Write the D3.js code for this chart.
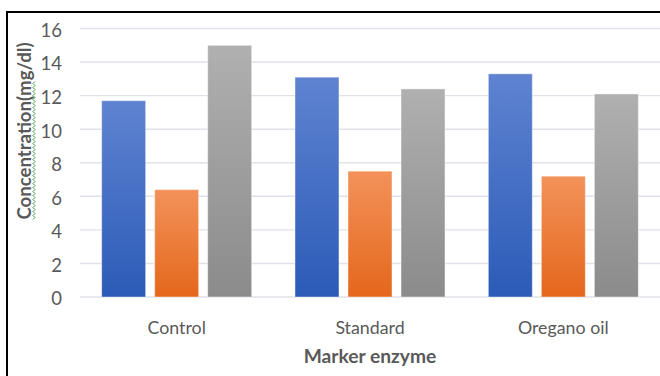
<!DOCTYPE html>
<html>
<head>
<meta charset="utf-8">
<script src="https://cdn.jsdelivr.net/npm/d3@7"></script>
<style>
  html, body { margin: 0; padding: 0; background: #fff; }
  svg { display: block; }
  text { font-family: Lato, "Open Sans", sans-serif; }
</style>
</head>
<body>
<svg id="chart" width="660" height="376"></svg>
<script>
// Marker enzyme concentrations (mg/dl) for three treatment groups
const categories = ["Control", "Standard", "Oregano oil"];
const seriesNames = ["Series1", "Series2", "Series3"];
const series1 = [11.7, 13.1, 13.3];
const series2 = [6.4, 7.5, 7.2];
const series3 = [15.0, 12.4, 12.1];
const yTicks = [0, 2, 4, 6, 8, 10, 12, 14, 16];
const xTitle = "Marker enzyme";
const yTitle = "Concentration(mg/dl)";

const seriesValues = [series1, series2, series3];
const gradients = [
  ["#5f83d1", "#2b5bb7"],
  ["#f3925a", "#e4671b"],
  ["#b0b0b0", "#8b8b8b"]
];

const svg = d3.select("#chart");
const W = 660, H = 376;
const plot = { left: 80, right: 660, top: 28.5, bottom: 297 };

svg.append("rect").attr("width", W).attr("height", H).attr("fill", "#fff");

// Gradient fills for the three series
const defs = svg.append("defs");
gradients.forEach((g, i) => {
  const lg = defs.append("linearGradient")
    .attr("id", "grad" + i)
    .attr("x1", 0).attr("y1", 0).attr("x2", 0).attr("y2", 1);
  lg.append("stop").attr("offset", "0%").attr("stop-color", g[0]);
  lg.append("stop").attr("offset", "100%").attr("stop-color", g[1]);
});

const y = d3.scaleLinear().domain([0, 16]).range([plot.bottom, plot.top]);
const x0 = d3.scaleBand().domain(categories)
  .range([plot.left, plot.right])
  .paddingInner(0.224).paddingOuter(0.112);
const x1 = d3.scaleBand().domain(seriesNames)
  .range([0, x0.bandwidth()])
  .paddingInner(0.17);

// Horizontal gridlines
svg.append("g").selectAll("line").data(yTicks).join("line")
  .attr("x1", plot.left).attr("x2", plot.right)
  .attr("y1", d => y(d)).attr("y2", d => y(d))
  .attr("stroke", "#dfe2e8").attr("stroke-width", 1.4);

// Y axis tick labels
const yAxis = d3.axisLeft(y).tickValues(yTicks).tickSize(0).tickPadding(0);
const gy = svg.append("g").attr("transform", "translate(62,2)").call(yAxis);
gy.select(".domain").remove();
gy.selectAll("text")
  .attr("font-size", 18.5)
  .attr("fill", "#595959")
  .style("font-family", "Lato, sans-serif");

// Bars
const groups = svg.append("g").selectAll("g").data(categories).join("g")
  .attr("transform", d => `translate(${x0(d)},0)`);
groups.selectAll("rect")
  .data((c, ci) => seriesNames.map((s, si) => ({ s, si, v: seriesValues[si][ci] })))
  .join("rect")
  .attr("x", d => x1(d.s))
  .attr("width", x1.bandwidth())
  .attr("y", d => y(d.v))
  .attr("height", d => y(0) - y(d.v))
  .attr("fill", d => `url(#grad${d.si})`)
  .attr("stroke", "rgba(255,255,255,0.45)")
  .attr("stroke-width", 1);

// Category axis labels
const xAxis = d3.axisBottom(x0).tickSize(0).tickPadding(0);
const gx = svg.append("g").attr("transform", `translate(0,${plot.bottom})`).call(xAxis);
gx.select(".domain").remove();
gx.selectAll("text")
  .attr("y", 36.5).attr("dy", null)
  .attr("font-size", 17.8)
  .attr("fill", "#595959")
  .style("font-family", "Lato, sans-serif");

// Axis titles
svg.append("text")
  .attr("x", (plot.left + plot.right) / 2).attr("y", 363)
  .attr("text-anchor", "middle")
  .attr("font-size", 19.2).attr("font-weight", "bold")
  .attr("fill", "#595959")
  .text(xTitle);

const yt = svg.append("text")
  .attr("transform", "translate(31,131) rotate(-90)")
  .attr("text-anchor", "middle")
  .attr("font-size", 18.6).attr("font-weight", "bold")
  .attr("fill", "#595959")
  .text(yTitle);

// Green wavy spell-check underline beneath the y title
const bb = yt.node().getBBox();
const yStart = 131 + bb.width / 2, yEnd = 80;
const wave = [];
for (let t = yStart, k = 0; t >= yEnd; t -= 2, k++) {
  wave.push([k % 2 ? 35 : 33, t]);
}
svg.append("path")
  .attr("d", d3.line()(wave))
  .attr("fill", "none")
  .attr("stroke", "#3a9d3a")
  .attr("stroke-width", 1);

// Chart frame (top and left edges)
svg.append("path")
  .attr("d", `M7,${H} V12 H${W}`)
  .attr("fill", "none")
  .attr("stroke", "#000")
  .attr("stroke-width", 2);
</script>
</body>
</html>
